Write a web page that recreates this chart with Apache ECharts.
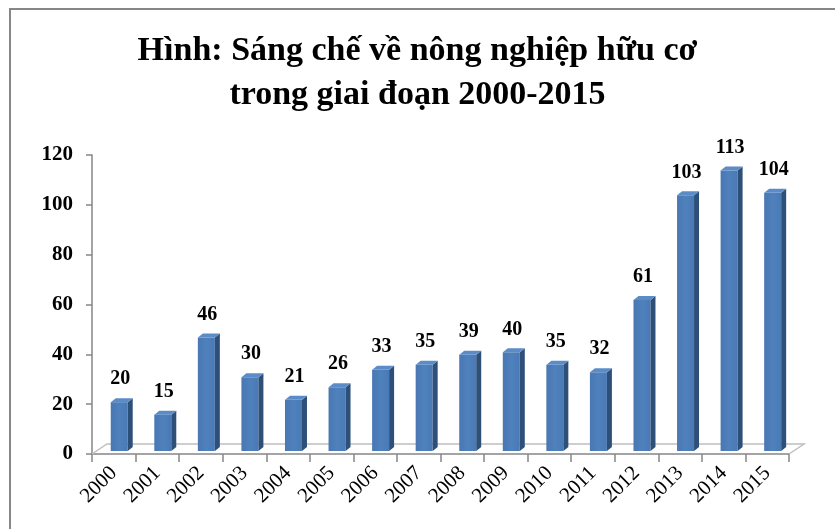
<!DOCTYPE html>
<html>
<head>
    <meta charset="utf-8">
    <title>ECharts</title>
    <script src="https://cdn.jsdelivr.net/npm/echarts@6/dist/echarts.min.js"></script>
    <style>
        html, body { margin: 0; padding: 0; background: #fff; }
    </style>
</head>
<body>
<div id="main" style="width: 835px;height:529px;"></div>
<script type="text/javascript">
    var myChart = echarts.init(document.getElementById('main'));

    // dữ liệu
    var years = ['2000', '2001', '2002', '2003', '2004', '2005', '2006', '2007',
        '2008', '2009', '2010', '2011', '2012', '2013', '2014', '2015'];
    var patents = [20, 15, 46, 30, 21, 26, 33, 35, 39, 40, 35, 32, 61, 103, 113, 104];
    var yTicks = [0, 20, 40, 60, 80, 100, 120];

    var serif = '"Liberation Serif", "Times New Roman", serif';

    // cột giả 3D: mặt trước, mặt bên, mặt trên
    function renderBar(params, api) {
        var i = api.value(0);
        var v = api.value(1);
        var bw = api.size([1, 0])[0];
        var top = api.coord([i, v]);
        var base = api.coord([i, 0]);
        var x0 = top[0] - bw * 0.07;
        var x1 = x0 + bw * 0.39;
        var yT = top[1] - 2;
        var yB = base[1] - 3;
        var dx = 5, dy = 4;
        return {
            type: 'group',
            children: [{
                type: 'rect',
                shape: { x: x0, y: yT, width: x1 - x0, height: yB - yT },
                style: {
                    fill: new echarts.graphic.LinearGradient(0, 0, 1, 0, [
                        { offset: 0, color: '#4977B3' },
                        { offset: 0.5, color: '#4F81BD' },
                        { offset: 1, color: '#4A7AB6' }
                    ])
                }
            }, {
                type: 'polygon',
                shape: { points: [[x1, yT], [x1 + dx, yT - dy], [x1 + dx, yB - dy], [x1, yB]] },
                style: { fill: '#2E5078' }
            }, {
                type: 'polygon',
                shape: { points: [[x0, yT], [x0 + dx, yT - dy], [x1 + dx, yT - dy], [x1, yT]] },
                style: { fill: '#5B8CC8' }
            }, {
                type: 'text',
                style: {
                    text: String(v),
                    x: (x0 + x1) / 2 + 1,
                    y: yT - dy - 9,
                    textAlign: 'center',
                    textVerticalAlign: 'bottom',
                    font: 'bold 20px ' + serif,
                    fill: '#000'
                }
            }]
        };
    }

    // sàn phía dưới các cột
    function renderFloor(params, api) {
        var bw = api.size([1, 0])[0];
        var p = api.coord([0, 0]);
        var xL = p[0] - bw / 2;
        var xR = xL + bw * years.length;
        var y = p[1];
        return {
            type: 'polyline',
            shape: { points: [[xL, y], [xL + 15, y - 10], [xR + 15, y - 10], [xR, y]] },
            style: { stroke: '#BFBFBF', lineWidth: 1.5, fill: null }
        };
    }

    var barData = patents.map(function (v, i) { return [i, v]; });

    option = {
        animation: false,
        title: {
            text: 'Hình: Sáng chế về nông nghiệp hữu cơ\ntrong giai đoạn 2000-2015',
            left: 'center',
            top: 24,
            textStyle: {
                fontFamily: serif,
                fontWeight: 'bold',
                fontSize: 34,
                lineHeight: 44,
                color: '#000'
            }
        },
        graphic: [{
            type: 'rect',
            shape: { x: 10, y: 9, width: 900, height: 600 },
            style: { fill: null, stroke: '#868686', lineWidth: 2 },
            silent: true
        }],
        grid: {
            left: 92,
            right: 46,
            top: 155,
            bottom: 75
        },
        xAxis: {
            type: 'category',
            data: years,
            boundaryGap: true,
            axisLine: { show: true, lineStyle: { color: '#868686', width: 1.5 } },
            axisTick: { show: true, length: 8, interval: 0, lineStyle: { color: '#868686', width: 1.5 } },
            axisLabel: {
                interval: 0,
                rotate: 45,
                margin: 16,
                fontFamily: serif,
                fontSize: 21,
                color: '#000'
            }
        },
        yAxis: {
            type: 'value',
            min: yTicks[0],
            max: yTicks[yTicks.length - 1],
            interval: 20,
            splitLine: { show: false },
            axisLine: { show: true, lineStyle: { color: '#868686', width: 1.5 } },
            axisTick: { show: true, length: 6, lineStyle: { color: '#868686', width: 1.5 } },
            axisLabel: {
                margin: 19,
                fontFamily: serif,
                fontWeight: 'bold',
                fontSize: 21,
                color: '#000'
            }
        },
        series: [{
            type: 'custom',
            name: 'floor',
            renderItem: renderFloor,
            data: [[0, 0]],
            z: 1,
            silent: true
        }, {
            type: 'custom',
            name: 'Sáng chế',
            renderItem: renderBar,
            encode: { x: 0, y: 1 },
            data: barData,
            z: 2
        }]
    };

    myChart.setOption(option);
</script>
</body>
</html>
